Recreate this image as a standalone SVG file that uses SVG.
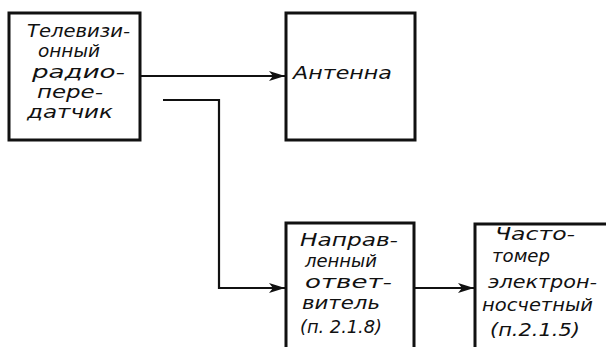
<svg xmlns="http://www.w3.org/2000/svg" width="606" height="347" viewBox="0 0 606 347">
<style>
.box{fill:#fff;stroke:#111;stroke-width:3}
.ln{fill:none;stroke:#111;stroke-width:2.2}
.t{font-family:"DejaVu Sans","Liberation Sans",sans-serif;font-style:italic;font-size:17px;fill:#111}
</style>
<defs>
<marker id="ah" markerWidth="16" markerHeight="10" refX="16" refY="5" orient="auto" markerUnits="userSpaceOnUse">
<path d="M0,0 L16,5 L0,10 L4,5 Z" fill="#111"/>
</marker>
</defs>
<rect width="606" height="347" fill="#fff"/>
<g id="connectors">
<path class="ln" d="M140,76 H285" marker-end="url(#ah)"/>
<path class="ln" d="M163,100 H219 V288 H285" marker-end="url(#ah)"/>
<path class="ln" d="M414,288 H474" marker-end="url(#ah)"/>
</g>
<g id="transmitter">
<rect class="box" x="9" y="13" width="131" height="127"/>
<text class="t" x="27" y="37" textLength="103" lengthAdjust="spacingAndGlyphs">Телевизи-</text>
<text class="t" x="38" y="57" textLength="62" lengthAdjust="spacingAndGlyphs">онный</text>
<text class="t" x="32" y="78" textLength="93" lengthAdjust="spacingAndGlyphs">радио-</text>
<text class="t" x="37" y="98" textLength="66" lengthAdjust="spacingAndGlyphs">пере-</text>
<text class="t" x="27" y="118" textLength="86" lengthAdjust="spacingAndGlyphs">датчик</text>
</g>
<g id="antenna">
<rect class="box" x="286" y="13" width="129" height="127"/>
<text class="t" x="293" y="79" textLength="99" lengthAdjust="spacingAndGlyphs">Антенна</text>
</g>
<g id="coupler">
<rect class="box" x="286" y="223" width="128" height="130"/>
<text class="t" x="300" y="246" textLength="98" lengthAdjust="spacingAndGlyphs">Направ-</text>
<text class="t" x="305" y="267" textLength="72" lengthAdjust="spacingAndGlyphs">ленный</text>
<text class="t" x="305" y="288" textLength="87" lengthAdjust="spacingAndGlyphs">ответ-</text>
<text class="t" x="302" y="309" textLength="78" lengthAdjust="spacingAndGlyphs">витель</text>
<text class="t" x="300" y="333" textLength="82" lengthAdjust="spacingAndGlyphs">(п. 2.1.8)</text>
</g>
<g id="frequency-meter">
<rect class="box" x="475" y="224" width="140" height="130"/>
<text class="t" x="495" y="240" textLength="80" lengthAdjust="spacingAndGlyphs">Часто-</text>
<text class="t" x="492" y="262" textLength="58" lengthAdjust="spacingAndGlyphs">томер</text>
<text class="t" x="488" y="288" textLength="109" lengthAdjust="spacingAndGlyphs">электрон-</text>
<text class="t" x="482" y="311" textLength="111" lengthAdjust="spacingAndGlyphs">носчетный</text>
<text class="t" x="490" y="336" textLength="90" lengthAdjust="spacingAndGlyphs">(п.2.1.5)</text>
</g>
</svg>
